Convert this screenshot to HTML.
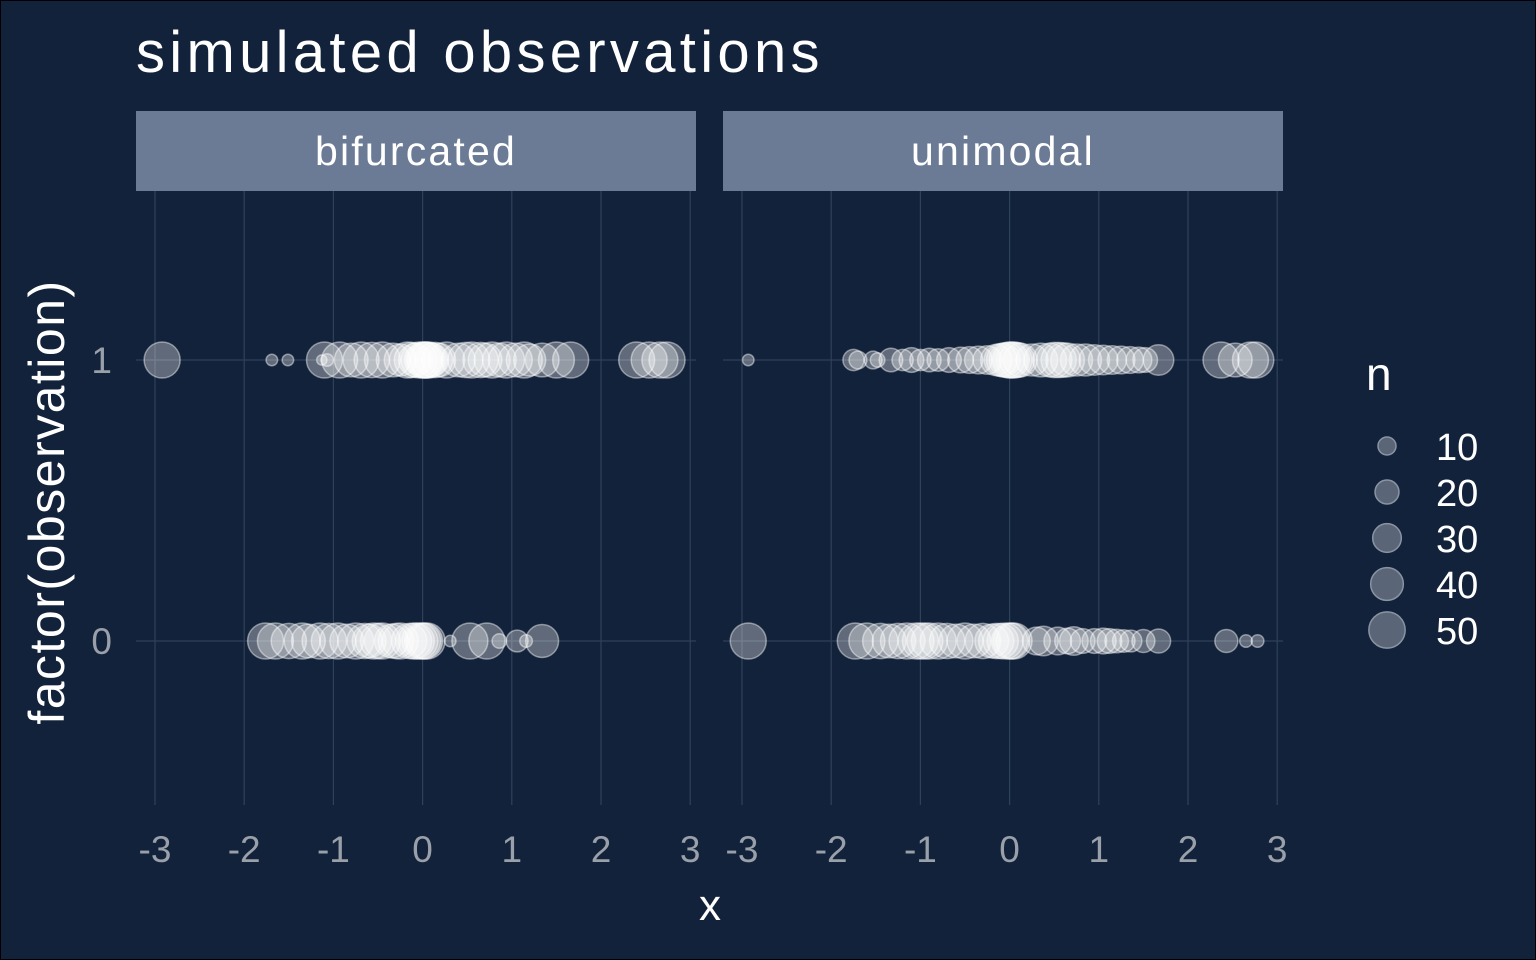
<!DOCTYPE html>
<html><head><meta charset="utf-8"><style>
html,body{margin:0;padding:0;background:#12223a;}
svg{display:block;font-family:"Liberation Sans",sans-serif;}
</style></head><body>
<svg id="chart" width="1536" height="960" viewBox="0 0 1536 960" xmlns="http://www.w3.org/2000/svg">
<rect x="0" y="0" width="1536" height="960" fill="#12223a" stroke="#000" stroke-width="2"/>
<text x="136" y="72" font-size="58" letter-spacing="4.3" fill="#ffffff">simulated observations</text>
<text transform="translate(64,502) rotate(-90)" text-anchor="middle" font-size="50" letter-spacing="1.5" fill="#ffffff">factor(observation)</text>
<text x="710" y="920" text-anchor="middle" font-size="44" fill="#ffffff">x</text>
<g id="legend"></g>
<g id="panels"></g>
</svg>
<script>
const panelNames = ["bifurcated", "unimodal"];
const xTicks = [-3, -2, -1, 0, 1, 2, 3];
const yCats = ["0", "1"];
const legendValues = [10, 20, 30, 40, 50];

const bif1X = [-2.92,-1.69,-1.51,-1.13,-1.07,-1.10,-0.93,-0.8,-0.69,-0.57,-0.45,-0.33,-0.25,-0.17,-0.12,-0.08,-0.04,0,0.02,0.03,0.05,0.07,0.1,0.14,0.18,0.27,0.4,0.48,0.55,0.65,0.7,0.78,0.86,0.94,1.04,1.14,1.2,1.34,1.5,1.66,2.4,2.54,2.66,2.74];
const bif1N = [46,2,2,1,3,46,46,40,46,44,46,40,36,46,44,40,46,46,46,46,46,46,40,44,40,46,40,44,46,44,40,46,40,46,40,46,36,40,46,46,46,46,46,46];
const bif0X = [-1.76,-1.65,-1.5,-1.35,-1.28,-1.15,-1.05,-0.95,-0.85,-0.75,-0.65,-0.6,-0.55,-0.5,-0.45,-0.35,-0.3,-0.25,-0.15,-0.1,-0.07,-0.03,0,0.02,0.05,0.31,0.53,0.72,0.86,1.06,1.16,1.34];
const bif0N = [46,46,44,46,40,46,44,46,40,46,44,40,46,44,46,40,44,46,44,46,46,46,46,46,46,2,46,46,5,15,3,38];
const uni1X = [-2.93,-1.75,-1.7,-1.53,-1.48,-1.33,-1.2,-1.1,-1.0,-0.9,-0.8,-0.68,-0.55,-0.45,-0.35,-0.25,-0.15,-0.1,-0.07,-0.03,0,0.02,0.05,0.08,0.12,0.25,0.35,0.45,0.5,0.55,0.6,0.65,0.75,0.85,0.95,1.05,1.15,1.25,1.35,1.45,1.52,1.67,2.37,2.53,2.7,2.76];
const uni1N = [2,14,9,9,5,18,14,20,14,18,16,20,22,24,26,28,34,38,40,44,46,46,46,44,40,36,40,40,44,44,42,40,36,36,32,30,28,26,24,22,20,32,46,40,46,46];
const uni0X = [-2.93,-1.73,-1.6,-1.45,-1.35,-1.25,-1.15,-1.05,-1.0,-0.95,-0.9,-0.8,-0.7,-0.6,-0.5,-0.4,-0.3,-0.2,-0.15,-0.1,-0.05,0,0.02,0.05,0.3,0.38,0.54,0.65,0.72,0.82,0.95,1.05,1.12,1.2,1.28,1.36,1.5,1.67,2.43,2.65,2.78];
const uni0N = [46,46,46,44,40,44,46,46,46,46,46,46,44,40,46,40,44,40,44,44,46,46,46,46,26,30,26,22,28,20,20,22,20,18,16,15,17,19,17,3,3];

const NS = "http://www.w3.org/2000/svg";
const panelsG = document.getElementById("panels");
const panelLeft = [136, 723], panelW = 560, stripTop = 111, stripH = 80, plotTop = 191, plotBottom = 805;
function xScale(p, v) { return panelLeft[p] + 19 + (v + 3) * 89.2; }
function yScale(c) { return c === "1" ? 360 : 641; }
function rScale(n) { return Math.sqrt(6.6 * n + 20); }
function mk(tag, attrs, parent) { const e = document.createElementNS(NS, tag); for (const k in attrs) e.setAttribute(k, attrs[k]); parent.appendChild(e); return e; }

const series = [[{c:"1",x:bif1X,n:bif1N},{c:"0",x:bif0X,n:bif0N}],[{c:"1",x:uni1X,n:uni1N},{c:"0",x:uni0X,n:uni0N}]];

panelNames.forEach((name, p) => {
  const g = mk("g", {}, panelsG);
  
  
  const strip = mk("rect", {x: panelLeft[p], y: stripTop, width: panelW, height: stripH, fill: "#6b7a95"}, g);
  
  
  const st = mk("text", {x: panelLeft[p] + panelW / 2, y: stripTop + 54, "text-anchor": "middle", "font-size": 41, "letter-spacing": 2.2, fill: "#ffffff"}, g);
  st.textContent = name;
  
  
  xTicks.forEach(t => {
    const ln = mk("line", {x1: xScale(p, t), x2: xScale(p, t), y1: plotTop, y2: plotBottom, stroke: "#2f405a", "stroke-width": 1.2}, g);
    
    
    const tl = mk("text", {x: xScale(p, t), y: 862, "text-anchor": "middle", "font-size": 37, fill: "#9aa0aa"}, g);
    tl.textContent = t;
    
    
  });
  yCats.forEach(c => {
    const ln = mk("line", {x1: panelLeft[p], x2: panelLeft[p] + panelW, y1: yScale(c), y2: yScale(c), stroke: "#2f405a", "stroke-width": 1.2}, g);
    
    
  });
  series[p].forEach(s => {
    s.x.forEach((xv, i) => {
      const ci = mk("circle", {cx: xScale(p, xv), cy: yScale(s.c), r: rScale(s.n[i]), fill: "rgba(255,255,255,0.33)", stroke: "rgba(255,255,255,0.45)", "stroke-width": 1.5}, g);
      
      
    });
  });
});
yCats.forEach(c => {
  const t = mk("text", {x: 112, y: yScale(c) + 13, "text-anchor": "end", "font-size": 37, fill: "#9aa0aa"}, panelsG);
  t.textContent = c;
  
  
});
const lg = document.getElementById("legend");
const lt = mk("text", {x: 1366, y: 390, "font-size": 46, fill: "#ffffff"}, lg);
lt.textContent = "n";


legendValues.forEach((v, i) => {
  const cy = 446 + i * 46;
  const c = mk("circle", {cx: 1387, cy: cy, r: rScale(v) * 0.97, fill: "#5a6678", stroke: "#8a93a3", "stroke-width": 1.5}, lg);
  
  
  const t = mk("text", {x: 1436, y: cy + 14, "font-size": 38, fill: "#ffffff"}, lg);
  t.textContent = v;
  
  
});
</script>
</body></html>
